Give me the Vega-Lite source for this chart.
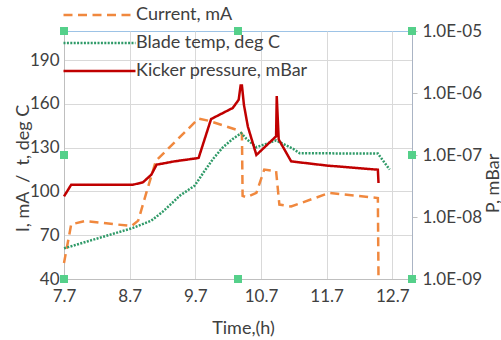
{
  "$schema": "https://vega.github.io/schema/vega-lite/v6.json",
  "width": 348,
  "height": 248,
  "autosize": {"type": "none"},
  "padding": {"left": 64, "top": 31, "right": 89, "bottom": 61},
  "background": "white",
  "config": {
    "font": "Lato",
    "view": {"stroke": "#9dc3e6", "strokeWidth": 1},
    "axis": {"labelFont": "Lato", "labelFontSize": 17, "labelColor": "#404040", "titleFont": "Lato", "titleFontSize": 18, "titleFontWeight": "normal", "titleColor": "#404040", "gridColor": "#d9d9d9", "gridWidth": 1, "domainColor": "#bfbfbf", "domainWidth": 1}
  },
  "datasets": {
    "left": [
      {"series": "Current, mA", "t": 7.7, "v": 51},
      {"series": "Current, mA", "t": 7.81, "v": 77.5},
      {"series": "Current, mA", "t": 8.02, "v": 79.7},
      {"series": "Current, mA", "t": 8.73, "v": 76.3},
      {"series": "Current, mA", "t": 8.83, "v": 80},
      {"series": "Current, mA", "t": 8.96, "v": 100},
      {"series": "Current, mA", "t": 9.1, "v": 121},
      {"series": "Current, mA", "t": 9.75, "v": 150},
      {"series": "Current, mA", "t": 9.9, "v": 148.5},
      {"series": "Current, mA", "t": 10.35, "v": 142},
      {"series": "Current, mA", "t": 10.41, "v": 139.5},
      {"series": "Current, mA", "t": 10.42, "v": 97},
      {"series": "Current, mA", "t": 10.48, "v": 96},
      {"series": "Current, mA", "t": 10.63, "v": 99},
      {"series": "Current, mA", "t": 10.75, "v": 115},
      {"series": "Current, mA", "t": 10.93, "v": 114},
      {"series": "Current, mA", "t": 10.98, "v": 91},
      {"series": "Current, mA", "t": 11.16, "v": 89.7},
      {"series": "Current, mA", "t": 11.74, "v": 99},
      {"series": "Current, mA", "t": 12.48, "v": 95.5},
      {"series": "Current, mA", "t": 12.49, "v": 40},
      {"series": "Blade temp, deg C", "t": 7.7, "v": 61},
      {"series": "Blade temp, deg C", "t": 8.75, "v": 75},
      {"series": "Blade temp, deg C", "t": 9.03, "v": 80},
      {"series": "Blade temp, deg C", "t": 9.2, "v": 86},
      {"series": "Blade temp, deg C", "t": 9.38, "v": 93.5},
      {"series": "Blade temp, deg C", "t": 9.46, "v": 97},
      {"series": "Blade temp, deg C", "t": 9.69, "v": 104},
      {"series": "Blade temp, deg C", "t": 9.84, "v": 114},
      {"series": "Blade temp, deg C", "t": 9.97, "v": 122.3},
      {"series": "Blade temp, deg C", "t": 10.12, "v": 130.3},
      {"series": "Blade temp, deg C", "t": 10.27, "v": 136},
      {"series": "Blade temp, deg C", "t": 10.4, "v": 140},
      {"series": "Blade temp, deg C", "t": 10.48, "v": 136},
      {"series": "Blade temp, deg C", "t": 10.63, "v": 130.3},
      {"series": "Blade temp, deg C", "t": 10.93, "v": 135},
      {"series": "Blade temp, deg C", "t": 11.19, "v": 129.2},
      {"series": "Blade temp, deg C", "t": 11.29, "v": 126.2},
      {"series": "Blade temp, deg C", "t": 12.48, "v": 126},
      {"series": "Blade temp, deg C", "t": 12.66, "v": 115}
    ],
    "pressure": [
      {"series": "Kicker pressure, mBar", "t": 7.7, "p": 2.15e-8},
      {"series": "Kicker pressure, mBar", "t": 7.81, "p": 3.32e-8},
      {"series": "Kicker pressure, mBar", "t": 8.75, "p": 3.32e-8},
      {"series": "Kicker pressure, mBar", "t": 8.9, "p": 3.61e-8},
      {"series": "Kicker pressure, mBar", "t": 9.03, "p": 4.81e-8},
      {"series": "Kicker pressure, mBar", "t": 9.11, "p": 6.98e-8},
      {"series": "Kicker pressure, mBar", "t": 9.38, "p": 7.89e-8},
      {"series": "Kicker pressure, mBar", "t": 9.75, "p": 8.95e-8},
      {"series": "Kicker pressure, mBar", "t": 9.94, "p": 3.8e-7},
      {"series": "Kicker pressure, mBar", "t": 10.27, "p": 5.73e-7},
      {"series": "Kicker pressure, mBar", "t": 10.36, "p": 7.76e-7},
      {"series": "Kicker pressure, mBar", "t": 10.39, "p": 1.32e-6},
      {"series": "Kicker pressure, mBar", "t": 10.41, "p": 1.32e-6},
      {"series": "Kicker pressure, mBar", "t": 10.44, "p": 6.46e-7},
      {"series": "Kicker pressure, mBar", "t": 10.5, "p": 2.88e-7},
      {"series": "Kicker pressure, mBar", "t": 10.63, "p": 1.0e-7},
      {"series": "Kicker pressure, mBar", "t": 10.93, "p": 2.0e-7},
      {"series": "Kicker pressure, mBar", "t": 10.94, "p": 8.9e-7},
      {"series": "Kicker pressure, mBar", "t": 10.97, "p": 1.78e-7},
      {"series": "Kicker pressure, mBar", "t": 11.16, "p": 7.89e-8},
      {"series": "Kicker pressure, mBar", "t": 11.7, "p": 6.76e-8},
      {"series": "Kicker pressure, mBar", "t": 12.48, "p": 5.79e-8},
      {"series": "Kicker pressure, mBar", "t": 12.49, "p": 3.53e-8}
    ],
    "handles": [
      {"t": 7.7, "v": 40}, {"t": 10.35, "v": 40}, {"t": 13.0, "v": 40},
      {"t": 7.7, "v": 125}, {"t": 13.0, "v": 125},
      {"t": 7.7, "v": 210}, {"t": 10.35, "v": 210}, {"t": 13.0, "v": 210}
    ]
  },
  "layer": [
    {
      "data": {"name": "left"},
      "mark": {"type": "line", "strokeWidth": 2.5},
      "encoding": {
        "x": {"field": "t", "type": "quantitative", "scale": {"domain": [7.7, 13.0], "nice": false, "zero": false},
          "axis": {"values": [7.7, 8.7, 9.7, 10.7, 11.7, 12.7], "format": ".1f", "title": "Time,(h)", "grid": true, "ticks": false, "labelPadding": 9, "labelFlush": false, "labelOverlap": false, "titleX": 179, "titleY": 54, "titleBaseline": "alphabetic"}},
        "y": {"field": "v", "type": "quantitative", "scale": {"domain": [40, 210], "nice": false, "zero": false},
          "axis": {"values": [40, 70, 100, 130, 160, 190], "title": "I, mA\u00a0 /\u00a0 t, deg C", "grid": true, "ticks": false, "labelPadding": 5, "titleAngle": 270, "titleX": -36, "titleY": 137, "titleBaseline": "alphabetic"}},
        "color": {"field": "series", "type": "nominal",
          "scale": {"domain": ["Current, mA", "Blade temp, deg C", "Kicker pressure, mBar"], "range": ["#f0883e", "#2f9a68", "#c00000"]},
          "legend": {"orient": "none", "legendX": -2, "legendY": -26, "title": null, "symbolType": "stroke", "symbolSize": 5184, "symbolStrokeWidth": 2.5, "clipHeight": 20, "rowPadding": 8, "labelFont": "Lato", "labelFontSize": 18, "labelColor": "#404040", "labelOffset": -1, "padding": 0, "labelLimit": 400}},
        "strokeDash": {"field": "series", "type": "nominal",
          "scale": {"domain": ["Current, mA", "Blade temp, deg C", "Kicker pressure, mBar"], "range": [[9, 5.5], [2, 1.4], [1, 0]]},
          "legend": {"orient": "none", "legendX": -2, "legendY": -26, "title": null, "symbolType": "stroke", "symbolSize": 5184, "symbolStrokeWidth": 2.5, "clipHeight": 20, "rowPadding": 8, "labelFont": "Lato", "labelFontSize": 18, "labelColor": "#404040", "labelOffset": -1, "padding": 0, "labelLimit": 400}}
      }
    },
    {
      "data": {"name": "pressure"},
      "mark": {"type": "line", "strokeWidth": 2.5},
      "encoding": {
        "x": {"field": "t", "type": "quantitative", "scale": {"domain": [7.7, 13.0], "nice": false, "zero": false},
          "axis": {"values": [7.7, 8.7, 9.7, 10.7, 11.7, 12.7], "format": ".1f", "title": "Time,(h)", "grid": true, "ticks": false, "labelPadding": 9, "labelFlush": false, "labelOverlap": false, "titleX": 179, "titleY": 54, "titleBaseline": "alphabetic"}},
        "y": {"field": "p", "type": "quantitative", "scale": {"type": "log", "domain": [1e-9, 1e-5], "nice": false},
          "axis": {"orient": "right", "values": [1e-9, 1e-8, 1e-7, 1e-6, 1e-5], "labelExpr": "'1.0E-0' + round(-log(datum.value)/LN10)", "title": "P, mBar", "grid": false, "ticks": true, "tickSize": 5, "tickColor": "#bfbfbf", "domainColor": "#aab4c4", "labelPadding": 5, "titleAngle": 270, "titleX": 86, "titleY": 152, "titleBaseline": "alphabetic"}},
        "color": {"field": "series", "type": "nominal",
          "scale": {"domain": ["Current, mA", "Blade temp, deg C", "Kicker pressure, mBar"], "range": ["#f0883e", "#2f9a68", "#c00000"]},
          "legend": {"orient": "none", "legendX": -2, "legendY": -26, "title": null, "symbolType": "stroke", "symbolSize": 5184, "symbolStrokeWidth": 2.5, "clipHeight": 20, "rowPadding": 8, "labelFont": "Lato", "labelFontSize": 18, "labelColor": "#404040", "labelOffset": -1, "padding": 0, "labelLimit": 400}},
        "strokeDash": {"field": "series", "type": "nominal",
          "scale": {"domain": ["Current, mA", "Blade temp, deg C", "Kicker pressure, mBar"], "range": [[9, 5.5], [2, 1.4], [1, 0]]},
          "legend": {"orient": "none", "legendX": -2, "legendY": -26, "title": null, "symbolType": "stroke", "symbolSize": 5184, "symbolStrokeWidth": 2.5, "clipHeight": 20, "rowPadding": 8, "labelFont": "Lato", "labelFontSize": 18, "labelColor": "#404040", "labelOffset": -1, "padding": 0, "labelLimit": 400}}
      }
    },
    {
      "data": {"name": "handles"},
      "mark": {"type": "square", "filled": true, "color": "#55d08a", "size": 64, "opacity": 1},
      "encoding": {
        "x": {"field": "t", "type": "quantitative", "scale": {"domain": [7.7, 13.0], "nice": false, "zero": false},
          "axis": {"values": [7.7, 8.7, 9.7, 10.7, 11.7, 12.7], "format": ".1f", "title": "Time,(h)", "grid": true, "ticks": false, "labelPadding": 9, "labelFlush": false, "labelOverlap": false, "titleX": 179, "titleY": 54, "titleBaseline": "alphabetic"}},
        "y": {"field": "v", "type": "quantitative", "scale": {"domain": [40, 210], "nice": false, "zero": false}, "axis": null}
      }
    }
  ],
  "resolve": {"scale": {"y": "independent"}}
}
